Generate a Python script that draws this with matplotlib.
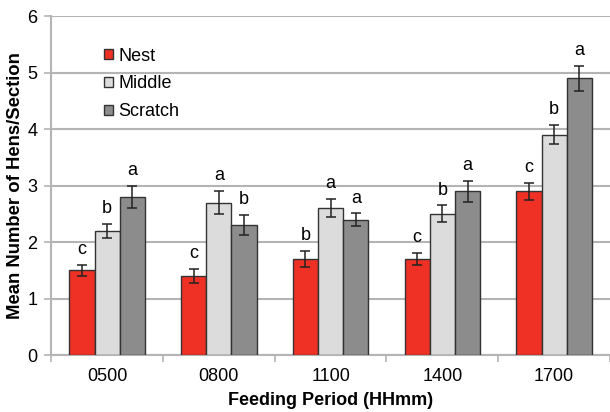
import numpy as np
import matplotlib.pyplot as plt

plt.rcParams["font.family"] = ["Liberation Sans", "DejaVu Sans"]

periods = ["0500", "0800", "1100", "1400", "1700"]
series = ["Nest", "Middle", "Scratch"]
colors = ["#ee3124", "#dcdcdc", "#8c8c8c"]

nest = [1.5, 1.4, 1.7, 1.7, 2.9]
middle = [2.2, 2.7, 2.6, 2.5, 3.9]
scratch = [2.8, 2.3, 2.4, 2.9, 4.9]

nest_err = [0.10, 0.13, 0.14, 0.11, 0.15]
middle_err = [0.12, 0.20, 0.16, 0.15, 0.17]
scratch_err = [0.19, 0.18, 0.11, 0.19, 0.22]

nest_sig = ["c", "c", "b", "c", "c"]
middle_sig = ["b", "a", "a", "b", "b"]
scratch_sig = ["a", "b", "a", "a", "a"]

values = [nest, middle, scratch]
errors = [nest_err, middle_err, scratch_err]
letters = [nest_sig, middle_sig, scratch_sig]

fig = plt.figure(figsize=(6.1, 4.12), dpi=100)
ax = fig.add_axes([0.084, 0.138, 0.916, 0.823])

x = np.arange(len(periods))
width = 0.225
grid_c = "#b4b4b4"

for i, (name, vals, errs, sig) in enumerate(zip(series, values, errors, letters)):
    pos = x + (i - 1) * width
    ax.bar(pos, vals, width, color=colors[i], edgecolor="#333333",
           linewidth=1.0, label=name, zorder=3)
    ax.errorbar(pos, vals, yerr=errs, fmt="none", ecolor="#222222",
                elinewidth=1.1, capsize=3.5, capthick=1.1, zorder=4)
    for p, v, e, s in zip(pos, vals, errs, sig):
        ax.text(p, v + e + 0.12, s, ha="center", va="bottom", fontsize=13)

ax.set_xlim(-0.5, len(periods) - 0.5)
ax.set_ylim(0, 6)
ax.set_yticks(range(7))
ax.yaxis.grid(True, color=grid_c, linewidth=1.5, zorder=0)
ax.set_axisbelow(True)

ax.set_xticks(x)
ax.set_xticklabels(periods)
ax.set_xticks(np.arange(-0.5, len(periods) + 0.5, 1), minor=True)
ax.tick_params(axis="x", which="major", length=0, pad=9, labelsize=13)
ax.tick_params(axis="x", which="minor", length=5, color=grid_c, width=1.2)
ax.tick_params(axis="y", length=5, color=grid_c, width=1.2, labelsize=13, pad=5)

for side in ["top", "right"]:
    ax.spines[side].set_visible(False)
for side in ["left", "bottom"]:
    ax.spines[side].set_color(grid_c)
    ax.spines[side].set_linewidth(1.5)

ax.set_xlabel("Feeding Period (HHmm)", fontsize=13, fontweight="bold", labelpad=5)
ax.set_ylabel("Mean Number of Hens/Section", fontsize=13.3, fontweight="bold", labelpad=2)

leg = ax.legend(loc="upper left", bbox_to_anchor=(0.065, 0.955), frameon=False,
                fontsize=13, handlelength=0.5, handleheight=0.5,
                handletextpad=0.3, labelspacing=0.6)

fig.savefig("out.png", dpi=100)
